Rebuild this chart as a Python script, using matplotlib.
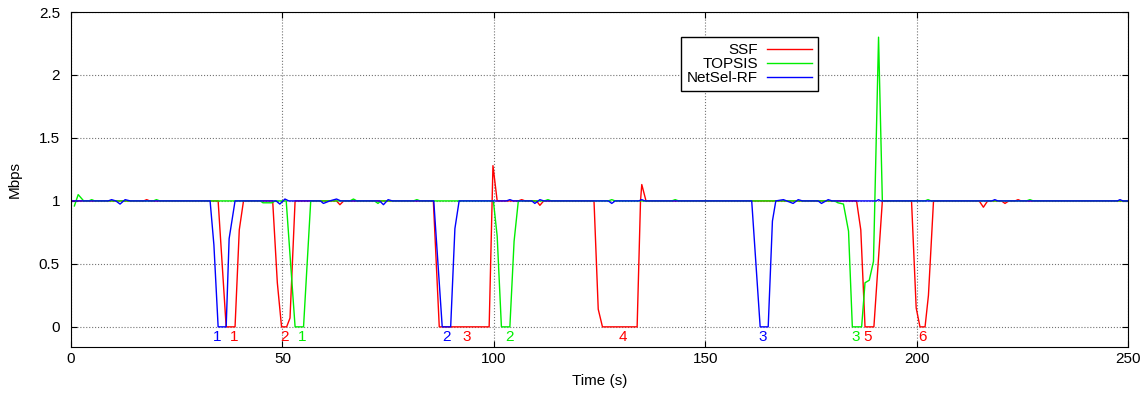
import matplotlib
matplotlib.use('Agg')
import matplotlib.pyplot as plt

plt.rcParams['font.family'] = ['Liberation Sans', 'DejaVu Sans']

# SSF series (time in s, throughput in Mbps)
ssf_t = [0, 17.2, 17.9, 18.6, 34.8, 36.7, 38.8, 39.8, 40.8, 47.7, 48.8, 49.8, 51.0, 51.8, 53.0,
         62.8, 63.6, 64.5, 85.7, 87.1, 98.9, 99.8, 100.8, 105.8, 106.6, 107.4, 110.1, 110.9, 111.8,
         123.7, 124.7, 125.7, 133.9, 134.7, 135.0, 136.0, 185.8, 186.8, 187.8, 189.9, 191.9,
         198.8, 199.9, 200.8, 202.0, 202.8, 204.0, 214.8, 215.8, 216.8, 220.1, 220.9, 221.8,
         223.3, 224.0, 224.7, 250]
ssf_v = [1, 1, 1.01, 1, 1, 0, 0, 0.77, 1, 1, 0.35, 0, 0, 0.07, 1,
         1, 0.97, 1, 1, 0, 0, 1.28, 1, 1, 1.01, 1, 1, 0.965, 1,
         1, 0.14, 0, 0, 1, 1.13, 1, 1, 0.77, 0, 0, 1,
         1, 0.15, 0, 0, 0.25, 1, 1, 0.95, 1, 1, 0.98, 1,
         1, 1.01, 1, 1]

# TOPSIS series
topsis_t = [0.8, 1.7, 3.0, 4.2, 4.9, 5.6, 19.5, 20.2, 21.0, 44.8, 45.4, 47.5, 48.3, 50.9, 53.0,
            55.0, 56.7, 66.0, 66.8, 67.6, 71.8, 72.6, 73.3, 81.0, 81.8, 82.6, 99.9, 100.8, 101.8,
            103.8, 104.8, 105.8, 112.0, 112.8, 113.6, 127.1, 127.9, 128.7, 142.1, 142.9, 143.7,
            180.6, 181.4, 182.7, 183.9, 184.8, 187.0, 187.8, 188.8, 189.8, 191.0, 191.9,
            202.0, 202.7, 203.4, 226.0, 226.8, 227.6, 250]
topsis_v = [0.96, 1.05, 1, 1, 1.01, 1, 1, 1.01, 1, 1, 0.985, 0.985, 1, 1, 0,
            0, 1, 1, 1.015, 1, 1, 0.98, 1, 1, 1.01, 1, 1, 0.72, 0,
            0, 0.68, 1, 1, 1.01, 1, 1, 1.01, 1, 1, 1.01, 1,
            1, 0.985, 0.975, 0.76, 0, 0, 0.35, 0.37, 0.52, 2.3, 1,
            1, 1.01, 1, 1, 1.01, 1, 1]

# NetSel-RF series
netsel_t = [0, 8.8, 9.6, 10.6, 11.6, 12.8, 14.0, 32.9, 33.8, 34.8, 36.7, 37.4, 38.8,
            48.5, 49.4, 50.6, 51.5, 59.0, 59.7, 61.2, 62.8, 63.8, 73.0, 73.9, 75.0, 76.0,
            85.8, 87.8, 89.8, 90.8, 91.8, 103.0, 103.8, 104.6, 109.0, 109.7, 110.9, 111.8,
            127.1, 127.9, 128.7, 134.3, 135.0, 135.7, 161.0, 163.0, 164.9, 165.9, 166.7,
            168.5, 170.8, 172.0, 173.0, 176.7, 177.5, 179.1, 180.0, 190.5, 191.0, 191.5,
            217.8, 218.5, 219.2, 247.5, 248.1, 248.8, 250]
netsel_v = [1, 1, 1.01, 1, 0.975, 1.01, 1, 1, 0.65, 0, 0, 0.7, 1,
            1, 0.975, 1.015, 1, 1, 0.98, 1, 1.015, 1, 1, 0.97, 1.01, 1,
            1, 0, 0, 0.78, 1, 1, 1.01, 1, 1, 0.98, 1.01, 1,
            1, 0.98, 1, 1, 1.01, 1, 1, 0, 0, 0.84, 1,
            1.01, 0.98, 1.01, 1, 1, 0.98, 1.01, 1, 1, 1.01, 1,
            1, 1.01, 1, 1, 1.01, 1, 1]

# handover markers below the drops
mark_t = [34.5, 38.5, 50.4, 54.6, 88.7, 93.7, 103.6, 130.6, 163.7, 185.7, 188.5, 201.5]
mark_txt = ['1', '1', '2', '1', '2', '3', '2', '4', '3', '3', '5', '6']
mark_col = ['b', 'r', 'r', 'g', 'b', 'r', 'g', 'r', 'b', 'g', 'r', 'r']
colors = {'r': '#ff0000', 'g': '#00ee00', 'b': '#0000ff'}

fs = 11

fig = plt.figure(figsize=(11.48, 4.0), dpi=100)
ax = fig.add_axes([71 / 1148, 1 - 347 / 400, 1057 / 1148, 335 / 400])

ax.plot(ssf_t, ssf_v, color=colors['r'], lw=1.0, label='SSF')
ax.plot(topsis_t, topsis_v, color=colors['g'], lw=1.0, label='TOPSIS')
ax.plot(netsel_t, netsel_v, color=colors['b'], lw=1.0, label='NetSel-RF')

for t, s, c in zip(mark_t, mark_txt, mark_col):
    ax.text(t, -0.08, s, color=colors[c], ha='center', va='center', fontsize=fs)

ax.set_xlim(0, 250)
ax.set_ylim(-0.16, 2.5)
ax.set_xticks([0, 50, 100, 150, 200, 250])
ax.set_yticks([0, 0.5, 1, 1.5, 2, 2.5])
ax.set_yticklabels(['0', '0.5', '1', '1.5', '2', '2.5'])
ax.tick_params(direction='in', top=True, right=True, labelsize=fs, length=4)
ax.tick_params(axis='y', pad=8)
ax.grid(True, linestyle=':', color='0.45', lw=0.8)
ax.set_xlabel('Time (s)', fontsize=fs, labelpad=6)
ax.set_ylabel('Mbps', fontsize=fs, labelpad=12)

leg = ax.legend(loc='upper left', bbox_to_anchor=(681 / 1148, 1 - 37 / 400),
                bbox_transform=fig.transFigure, markerfirst=False, fancybox=False,
                framealpha=1, edgecolor='black', fontsize=fs, handlelength=2.9,
                borderpad=0.4, labelspacing=0.0, handletextpad=0.6, borderaxespad=0)
leg.get_frame().set_linewidth(1.0)
for txt in leg.get_texts():
    txt.set_ha('right')
leg._legend_box.align = 'right'

fig.savefig('out.png', dpi=100)
